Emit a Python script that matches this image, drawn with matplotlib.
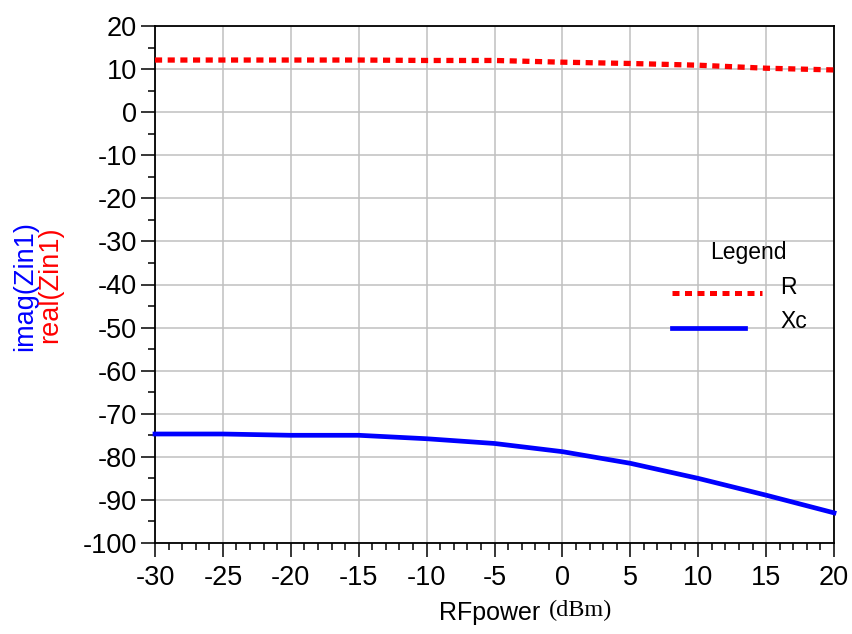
import matplotlib
matplotlib.use("Agg")
import matplotlib.pyplot as plt
from matplotlib.ticker import MultipleLocator
from matplotlib.lines import Line2D

# Data
rf_power = [-30, -25, -20, -15, -10, -5, 0, 5, 10, 15, 20]
real_zin = [12.1, 12.1, 12.1, 12.1, 12.0, 12.0, 11.6, 11.3, 10.9, 10.2, 9.8]
imag_zin = [-74.7, -74.7, -75.0, -75.0, -75.8, -76.9, -78.8, -81.5, -85.0, -88.9, -93.0]
x_ticks = [-30, -25, -20, -15, -10, -5, 0, 5, 10, 15, 20]
y_ticks = [20, 10, 0, -10, -20, -30, -40, -50, -60, -70, -80, -90, -100]

plt.rcParams['font.family'] = ['Liberation Sans', 'DejaVu Sans']

W, H = 852, 634
fig = plt.figure(figsize=(W / 100, H / 100), dpi=100)
L, R, T, B = 155, 834, 26, 543
ax = fig.add_axes([L / W, 1 - B / H, (R - L) / W, (B - T) / H])

ax.set_xlim(-30, 20)
ax.set_ylim(-100, 20)
ax.set_xticks(x_ticks)
ax.set_yticks(y_ticks)
ax.xaxis.set_minor_locator(MultipleLocator(1))
ax.yaxis.set_minor_locator(MultipleLocator(5))
ax.grid(True, which='major', color='#c0c0c0', linewidth=1.1, zorder=0)

ax.tick_params(axis='both', which='major', direction='out', length=10, width=1.1,
               labelsize=19.5, color='black', top=False, right=False)
ax.tick_params(axis='x', which='major', length=10, pad=6)
ax.tick_params(axis='x', which='minor', direction='out', length=5, width=1.1)
ax.tick_params(axis='y', which='minor', direction='out', length=5, width=1.1)
ax.tick_params(axis='y', which='major', pad=3)
ax.set_xticklabels([str(v) for v in x_ticks])
ax.set_yticklabels([str(v) for v in y_ticks])
for s in ax.spines.values():
    s.set_linewidth(1.3)
    s.set_color('black')

# Curves
ax.plot(rf_power, real_zin, color='#ff0000', linewidth=3.8, linestyle=(0, (1.35, 1.05)),
        dash_capstyle='butt', solid_capstyle='butt', zorder=3, clip_on=False)
ax.plot(rf_power, imag_zin, color='#0000ff', linewidth=3.4, zorder=3, clip_on=False)

# Legend (manual, axes-fraction coordinates)
def fx(px):
    return (px - L) / (R - L)

def fy(py):
    return (B - py) / (B - T)

ax.text(fx(748), fy(252), 'Legend', fontsize=16.5, ha='center', va='center',
        transform=ax.transAxes)
ax.add_line(Line2D([fx(672), fx(762)], [fy(293), fy(293)], transform=ax.transAxes,
                   color='#ff0000', linewidth=3.6, linestyle=(0, (1.4, 1.1)),
                   dash_capstyle='butt'))
ax.text(fx(780), fy(287), 'R', fontsize=16.5, ha='left', va='center',
        transform=ax.transAxes)
ax.add_line(Line2D([fx(672), fx(745)], [fy(328), fy(328)], transform=ax.transAxes,
                   color='#0000ff', linewidth=3.4))
ax.text(fx(780), fy(321), 'Xc', fontsize=16.5, ha='left', va='center',
        transform=ax.transAxes)

# Y labels
fig.text(25 / W, 1 - 286 / H, 'imag(Zin1)', color='#0000ff', fontsize=19.5,
         rotation=90, ha='center', va='center')
fig.text(50 / W, 1 - 285 / H, 'real(Zin1)', color='#ff0000', fontsize=19.5,
         rotation=90, ha='center', va='center')

# X label
fig.text(540 / W, 1 - 613 / H, 'RFpower', fontsize=18, ha='right', va='center')
fig.text(549 / W, 1 - 610 / H, '(dBm)', fontsize=17.5, ha='left', va='center',
         family=['Liberation Serif', 'DejaVu Serif'])

fig.savefig('out.png', dpi=100)
